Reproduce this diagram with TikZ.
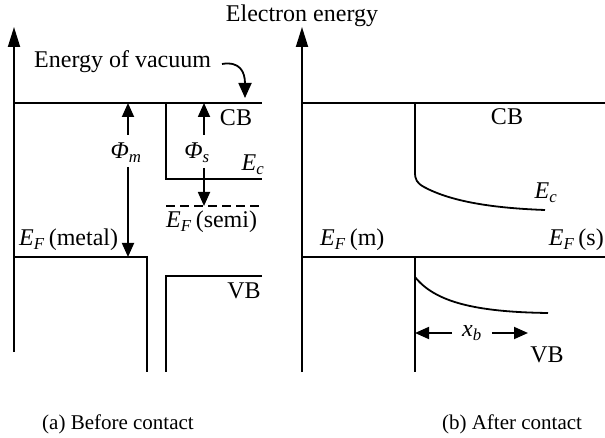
\documentclass[tikz,border=0pt]{standalone}
\usepackage{fontspec}
\setmainfont{Liberation Serif}
\usetikzlibrary{arrows.meta}
\begin{document}
\begin{tikzpicture}[x=1pt,y=-1pt,
  band/.style={line width=1.8pt},
  axisarrow/.style={line width=1.8pt,-{Triangle[length=20pt,width=12pt]}},
  dimarrow/.style={line width=1.8pt,-{Triangle[length=14pt,width=12pt]}},
  lbl/.style={inner sep=0pt,font=\fontsize{24}{27}\selectfont},
  captext/.style={inner sep=0pt,font=\fontsize{21}{24}\selectfont}]
\useasboundingbox (0,0) rectangle (605,438);
% ---------- (a) before contact ----------
\coordinate (axA0) at (14,352);
\coordinate (axA1) at (14,27);
\draw[axisarrow] (axA0) -- (axA1);
\coordinate (vacL) at (14,103);
\coordinate (vacR) at (262,103);
\draw[band] (vacL) -- (vacR);
% metal
\draw[band] (14,257) -- (147,257) -- (147,372);
% semiconductor
\draw[band] (166,103) -- (166,179) -- (262,179);
\draw[band,dashed,dash pattern=on 9pt off 5pt] (166,206) -- (262,206);
\draw[band] (262,276) -- (166,276) -- (166,372);
% Phi_m
\node[lbl] (phim) at (126,153) {\textit{Φ}\textsubscript{\textit{m}}};
\coordinate (pm1) at (128,135);
\coordinate (pm2) at (128,103);
\coordinate (pm3) at (128,167);
\coordinate (pm4) at (128,257);
\draw[dimarrow] (pm1) -- (pm2);
\draw[dimarrow] (pm3) -- (pm4);
% Phi_s
\node[lbl] (phis) at (197,153) {\textit{Φ}\textsubscript{\textit{s}}};
\coordinate (ps1) at (204,135);
\coordinate (ps2) at (204,103);
\coordinate (ps3) at (204,168);
\coordinate (ps4) at (204,206);
\draw[dimarrow] (ps1) -- (ps2);
\draw[dimarrow] (ps3) -- (ps4);
% labels
\node[lbl,anchor=west] (vac) at (34,62) {Energy of vacuum};
\coordinate (vacarr) at (245,98);
\draw[line width=1.8pt,-{Triangle[length=15pt,width=13pt]}] (222,64) .. controls (240,61) and (245,72) .. (vacarr);
\node[lbl] (cbA) at (236,118) {CB};
\node[lbl] (ecA) at (253,165) {\textit{E}\textsubscript{\textit{c}}};
\node[lbl,anchor=west] (efs) at (166,222) {\textit{E}\textsubscript{\textit{F}}\,(semi)};
\node[lbl,anchor=west] (efm) at (19,240) {\textit{E}\textsubscript{\textit{F}}\,(metal)};
\node[lbl] (vbA) at (244,291) {VB};
\node[lbl] (title) at (302,16) {Electron energy};
\node[captext] (capA) at (118,424) {(a) Before contact};
% ---------- (b) after contact ----------
\coordinate (axB0) at (302,372);
\coordinate (axB1) at (302,27);
\draw[axisarrow] (axB0) -- (axB1);
\draw[band] (302,103) -- (605,103);
\draw[band] (302,257) -- (605,257);
\draw[band] (415,103) -- (415,172) .. controls (415,180) and (417,183) .. (424,187)
  .. controls (450,201) and (490,208) .. (545,210);
\draw[band] (415,257) -- (415,372);
\draw[band] (415,277) .. controls (435,302) and (475,312) .. (548,313);
\node[lbl] (cbB) at (507,117) {CB};
\node[lbl] (ecB) at (546,193) {\textit{E}\textsubscript{\textit{c}}};
\node[lbl,anchor=west] (efmB) at (320,240) {\textit{E}\textsubscript{\textit{F}}\,(m)};
\node[lbl,anchor=east] (efsB) at (604,240) {\textit{E}\textsubscript{\textit{F}}\,(s)};
\node[lbl] (xb) at (472,333) {\textit{x}\textsubscript{\textit{b}}};
\coordinate (xbL) at (415,333);
\coordinate (xbR) at (528,333);
\draw[dimarrow] (xb.west) ++(-10,0) -- (xbL);
\draw[dimarrow] (xb.east) ++(10,0) -- (xbR);
\node[lbl] (vbB) at (547,355) {VB};
\node[captext] (capB) at (512,424) {(b) After contact};
\end{tikzpicture}
\end{document}
